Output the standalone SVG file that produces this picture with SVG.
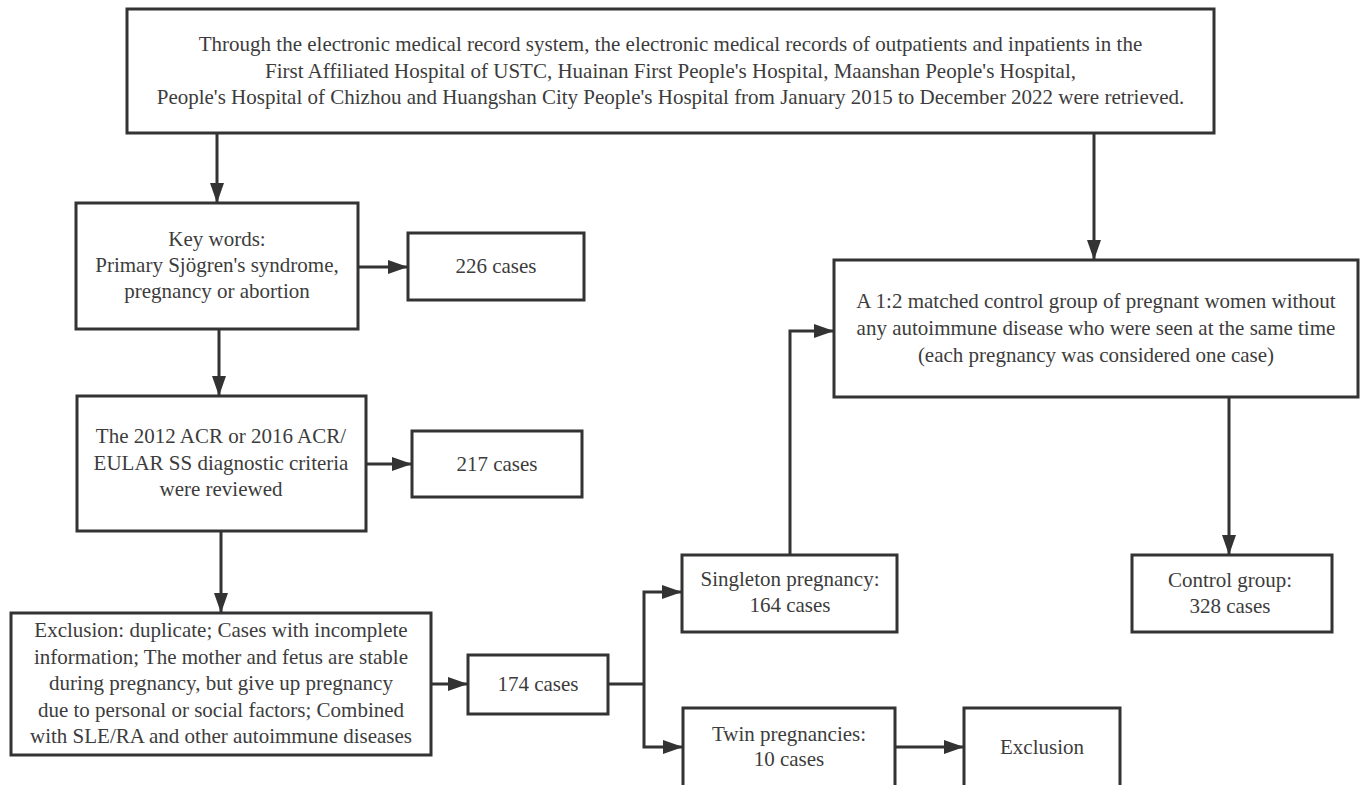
<svg xmlns="http://www.w3.org/2000/svg" width="1360" height="785" viewBox="0 0 1360 785">
<defs>
<marker id="ah" markerUnits="userSpaceOnUse" markerWidth="20" markerHeight="14" refX="20" refY="7" orient="auto">
<path d="M0,0 L20,7 L0,14 z" fill="#333"/>
</marker>
<style>
.box{fill:#fff;stroke:#333;stroke-width:3}
.t{font-family:"Liberation Serif","Times New Roman","DejaVu Serif",serif;font-size:21px;fill:#3c3c3c;text-anchor:middle}
.t2{font-size:21px}
.c{fill:none;stroke:#333;stroke-width:3}
.a{marker-end:url(#ah)}
</style>
</defs>
<rect width="1360" height="785" fill="#fff"/>
<g id="connectors">
<line class="c a" x1="217" y1="133" x2="217" y2="203"/>
<line class="c a" x1="1094" y1="133" x2="1094" y2="260"/>
<line class="c a" x1="358" y1="267" x2="408" y2="267"/>
<line class="c a" x1="219" y1="329" x2="219" y2="396"/>
<line class="c a" x1="366" y1="464" x2="412" y2="464"/>
<line class="c a" x1="221" y1="531" x2="221" y2="613"/>
<line class="c a" x1="431" y1="684" x2="468" y2="684"/>
<polyline class="c" points="608,684 644,684"/>
<polyline class="c a" points="644,684 644,592 682,592"/>
<polyline class="c a" points="644,684 644,747 683,747"/>
<polyline class="c a" points="790,555 790,331 834,331"/>
<line class="c a" x1="1229" y1="397" x2="1229" y2="555"/>
<line class="c a" x1="895" y1="747" x2="964" y2="747"/>
</g>
<g id="n-top">
<rect class="box" x="127" y="9" width="1087" height="124"/>
<text class="t t2" x="670.5" y="51">Through the electronic medical record system, the electronic medical records of outpatients and inpatients in the</text>
<text class="t t2" x="670.5" y="77.5">First Affiliated Hospital of USTC, Huainan First People's Hospital, Maanshan People's Hospital,</text>
<text class="t t2" x="670.5" y="104">People's Hospital of Chizhou and Huangshan City People's Hospital from January 2015 to December 2022 were retrieved.</text>
</g>
<g id="n-keywords">
<rect class="box" x="76" y="203" width="282" height="126"/>
<text class="t" x="217" y="246">Key words:</text>
<text class="t" x="217" y="272">Primary Sjögren's syndrome,</text>
<text class="t" x="217" y="298">pregnancy or abortion</text>
</g>
<g id="n-226">
<rect class="box" x="408" y="233" width="176" height="67"/>
<text class="t" x="496" y="273">226 cases</text>
</g>
<g id="n-acr">
<rect class="box" x="77" y="396" width="289" height="135"/>
<text class="t" x="221" y="443">The 2012 ACR or 2016 ACR/</text>
<text class="t" x="221" y="469.5">EULAR SS diagnostic criteria</text>
<text class="t" x="221" y="496">were reviewed</text>
</g>
<g id="n-217">
<rect class="box" x="412" y="431" width="170" height="66"/>
<text class="t" x="497" y="471">217 cases</text>
</g>
<g id="n-exclusion-criteria">
<rect class="box" x="11" y="613" width="420" height="142"/>
<text class="t" x="221" y="637">Exclusion: duplicate; Cases with incomplete</text>
<text class="t" x="221" y="663.5">information; The mother and fetus are stable</text>
<text class="t" x="221" y="690">during pregnancy, but give up pregnancy</text>
<text class="t" x="221" y="716.5">due to personal or social factors; Combined</text>
<text class="t" x="221" y="743">with SLE/RA and other autoimmune diseases</text>
</g>
<g id="n-174">
<rect class="box" x="468" y="655" width="140" height="59"/>
<text class="t" x="538" y="691">174 cases</text>
</g>
<g id="n-singleton">
<rect class="box" x="682" y="555" width="215" height="77"/>
<text class="t" x="790" y="586">Singleton pregnancy:</text>
<text class="t" x="790" y="612">164 cases</text>
</g>
<g id="n-twin">
<rect class="box" x="683" y="708" width="212" height="90"/>
<text class="t" x="789" y="741">Twin pregnancies:</text>
<text class="t" x="789" y="766">10 cases</text>
</g>
<g id="n-exclusion">
<rect class="box" x="964" y="708" width="156" height="90"/>
<text class="t" x="1042" y="754">Exclusion</text>
</g>
<g id="n-matched">
<rect class="box" x="834" y="260" width="524" height="137"/>
<text class="t" x="1096" y="308">A 1:2 matched control group of pregnant women without</text>
<text class="t" x="1096" y="335">any autoimmune disease who were seen at the same time</text>
<text class="t" x="1096" y="362">(each pregnancy was considered one case)</text>
</g>
<g id="n-control">
<rect class="box" x="1132" y="555" width="200" height="77"/>
<text class="t" x="1230" y="587">Control group:</text>
<text class="t" x="1230" y="613">328 cases</text>
</g>
</svg>
